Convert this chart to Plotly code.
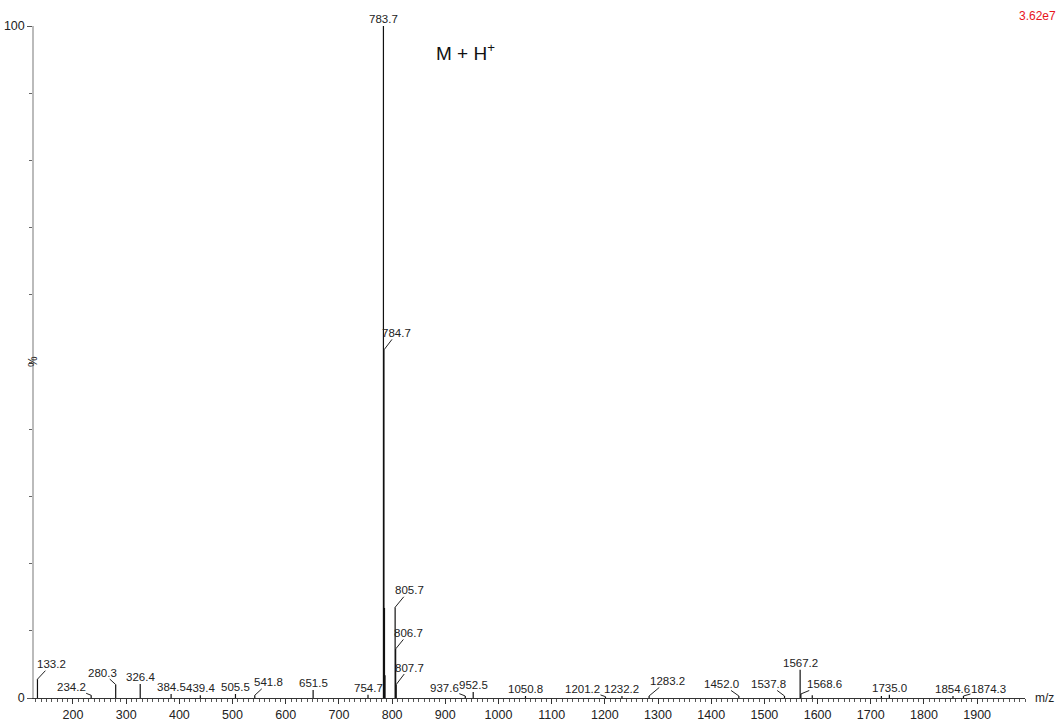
import plotly.graph_objects as go

# ---- data ----
mz_values = [133.2, 234.2, 280.3, 326.4, 384.5, 439.4, 505.5, 541.8, 651.5, 754.7,
             783.7, 784.7, 785.7, 786.7, 805.7, 806.7, 807.7, 937.6, 952.5, 1050.8,
             1201.2, 1232.2, 1283.2, 1452.0, 1537.8, 1567.2, 1568.6, 1590.0, 1720.0,
             1735.0, 1854.6, 1874.3]
intensity_pct = [2.8, 0.4, 2.0, 2.1, 0.6, 0.4, 0.6, 0.4, 1.2, 0.5,
                 100.0, 51.8, 13.4, 3.4, 13.5, 7.3, 2.0, 0.3, 0.9, 0.3,
                 0.2, 0.3, 0.3, 0.3, 0.3, 4.2, 0.6, 0.4, 0.3,
                 0.5, 0.3, 0.3]
peak_labels = ["133.2", "234.2", "280.3", "326.4", "384.5", "439.4", "505.5", "541.8", "651.5", "754.7",
               "783.7", "784.7", "", "", "805.7", "806.7", "807.7", "937.6", "952.5", "1050.8",
               "1201.2", "1232.2", "1283.2", "1452.0", "1537.8", "1567.2", "1568.6", "", "",
               "1735.0", "1854.6", "1874.3"]
x_tick_values = [200, 300, 400, 500, 600, 700, 800, 900, 1000, 1100, 1200, 1300,
                 1400, 1500, 1600, 1700, 1800, 1900]
y_tick_values = [0, 100]
base_peak_intensity = "3.62e7"
ion_label = "M + H<sup>+</sup>"

# ---- style: leader-line offsets (pixels) for displaced labels ----
leader_offsets = {
    "133.2": (14, -15), "234.2": (-20, -8), "280.3": (-13, -12), "541.8": (14, -13),
    "784.7": (13, -17), "805.7": (14, -17), "806.7": (13, -16), "807.7": (13, -17),
    "937.6": (-21, -8), "1201.2": (-23, -8), "1283.2": (18, -15), "1452.0": (-17, -12),
    "1537.8": (-16, -12), "1568.6": (24, -10), "1874.3": (25, -7),
}

xs, ys = [], []
for m, h in zip(mz_values, intensity_pct):
    xs += [m, m, None]
    ys += [0, h, None]

fig = go.Figure()
fig.add_trace(go.Scatter(x=xs, y=ys, mode="lines",
                         line=dict(color="#111111", width=1.2),
                         hoverinfo="skip", showlegend=False))

FONT = "Liberation Sans, Arial, sans-serif"
annotations = []
for m, h, lab in zip(mz_values, intensity_pct, peak_labels):
    if not lab:
        continue
    if lab in leader_offsets:
        ax, ay = leader_offsets[lab]
        annotations.append(dict(x=m, y=h, xref="x", yref="y", text=lab,
                                showarrow=True, arrowhead=0, arrowwidth=1,
                                arrowcolor="#222", ax=ax, ay=ay, standoff=0,
                                borderpad=0,
                                font=dict(family=FONT, size=11.5, color="#222")))
    else:
        annotations.append(dict(x=m, y=h, xref="x", yref="y", text=lab,
                                showarrow=False, yanchor="bottom", yshift=0,
                                borderpad=0,
                                font=dict(family=FONT, size=11.5, color="#222")))

annotations.append(dict(x=(465 - 34) / 991, y=1 - (52 - 26) / 672, xref="paper", yref="paper",
                        text=ion_label, showarrow=False, yshift=14,
                        font=dict(family=FONT, size=19, color="#111")))
annotations.append(dict(x=1, y=1, xref="paper", yref="paper", text=base_peak_intensity,
                        showarrow=False, xanchor="right", yanchor="bottom",
                        xshift=33, yshift=1,
                        font=dict(family=FONT, size=12, color="#e8141c")))
annotations.append(dict(x=1, y=0, xref="paper", yref="paper", text="m/z",
                        showarrow=False, xanchor="left", yanchor="middle", xshift=8,
                        font=dict(family=FONT, size=12, color="#222")))
annotations.append(dict(x=0, y=0.5, xref="paper", yref="paper", text="%",
                        showarrow=False, textangle=-90, xanchor="center", yanchor="middle",
                        xshift=-1,
                        font=dict(family=FONT, size=12, color="#222")))

fig.update_layout(
    width=1059, height=721,
    margin=dict(l=34, r=34, t=26, b=23, autoexpand=False),
    paper_bgcolor="white", plot_bgcolor="white",
    annotations=annotations,
    font=dict(family=FONT, size=12, color="#222"),
    xaxis=dict(range=[126.7, 1990], tickvals=x_tick_values, ticks="outside",
               ticklen=5, tickcolor="#333", tickwidth=1, automargin=False,
               minor=dict(dtick=10, tick0=0, ticks="outside", ticklen=3, tickcolor="#555"),
               showline=True, linecolor="#333", linewidth=1, showgrid=False, zeroline=False,
               tickfont=dict(family=FONT, size=12.5, color="#222")),
    yaxis=dict(range=[0, 100], tickvals=y_tick_values, ticks="outside",
               ticklen=5, tickcolor="#555", automargin=False,
               minor=dict(dtick=10, tick0=0, ticks="outside", ticklen=3, tickcolor="#666"),
               showline=True, linecolor="#bbbbbb", linewidth=1.5, showgrid=False, zeroline=False,
               tickfont=dict(family=FONT, size=12.5, color="#222")),
)

fig.write_html("out.html")
